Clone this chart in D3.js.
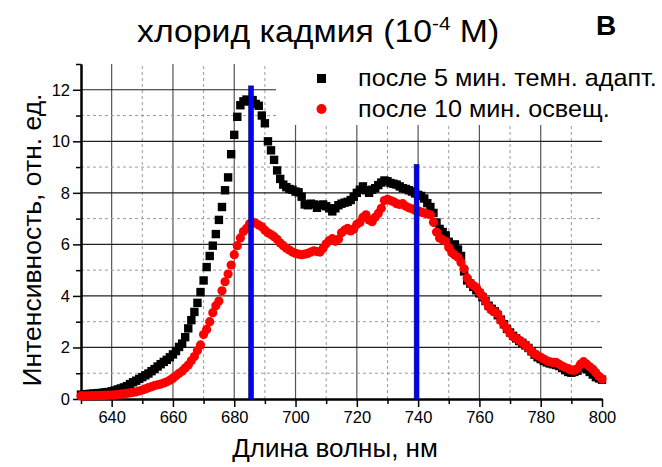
<!DOCTYPE html>
<html>
<head>
<meta charset="utf-8">
<script src="https://cdn.jsdelivr.net/npm/d3@7"></script>
<style>
  html, body { margin: 0; padding: 0; background: #fff; }
  svg { display: block; font-family: "Liberation Sans", Arial, sans-serif; }
</style>
</head>
<body>
<svg id="chart" width="662" height="467"></svg>
<script>
// Fluorescence spectra, 1 nm step from 630 to 800 nm
const wlStart = 630;
const darkAdapted = [
  0.17,0.18,0.19,0.20,0.21,0.22,0.23,0.24,0.26,0.27,
  0.30,0.33,0.37,0.41,0.45,0.50,0.58,0.65,0.71,0.78,
  0.85,0.92,0.99,1.08,1.16,1.26,1.35,1.44,1.52,1.62,
  1.73,1.86,2.02,2.15,2.40,2.74,3.06,3.38,3.73,4.15,
  4.60,5.12,5.55,5.95,6.40,6.95,7.45,8.10,8.60,9.50,
  10.25,10.95,11.40,11.55,11.62,11.55,11.60,11.45,11.38,11.00,
  10.70,10.00,9.65,9.28,8.87,8.54,8.32,8.22,8.15,8.12,
  8.05,8.02,7.85,7.55,7.52,7.58,7.55,7.42,7.52,7.55,
  7.48,7.40,7.28,7.40,7.52,7.58,7.62,7.65,7.72,7.85,
  8.00,8.12,8.25,8.10,8.00,8.12,8.18,8.30,8.40,8.48,
  8.45,8.38,8.35,8.32,8.25,8.18,8.15,8.10,8.05,7.98,
  7.92,7.88,7.78,7.60,7.45,7.22,6.85,6.60,6.48,6.35,
  6.10,5.85,6.00,5.80,5.55,4.95,4.60,4.48,4.35,4.22,
  4.10,3.95,3.80,3.62,3.50,3.40,3.25,3.08,2.90,2.72,
  2.58,2.45,2.35,2.25,2.18,2.08,1.98,1.85,1.72,1.62,
  1.55,1.48,1.42,1.38,1.35,1.32,1.28,1.20,1.12,1.05,
  1.02,1.05,1.10,1.22,1.25,1.15,1.05,0.95,0.85,0.80,
  0.75
];
const illuminated = [
  0.12,0.12,0.12,0.12,0.13,0.13,0.13,0.14,0.14,0.15,
  0.15,0.16,0.17,0.19,0.20,0.22,0.24,0.26,0.28,0.31,
  0.35,0.39,0.44,0.48,0.52,0.55,0.58,0.62,0.67,0.73,
  0.81,0.90,1.00,1.08,1.20,1.32,1.48,1.65,1.88,2.10,
  2.50,2.70,3.00,3.35,3.62,3.80,4.20,4.55,4.85,5.20,
  5.60,5.95,6.25,6.50,6.62,6.80,6.86,6.82,6.75,6.68,
  6.55,6.45,6.38,6.30,6.20,6.05,5.95,5.85,5.78,5.70,
  5.65,5.62,5.60,5.62,5.65,5.70,5.75,5.72,5.70,5.85,
  6.02,6.15,6.22,6.12,6.20,6.45,6.55,6.62,6.52,6.60,
  6.78,6.85,7.05,7.15,6.95,6.88,7.05,7.20,7.40,7.70,
  7.75,7.70,7.65,7.58,7.55,7.58,7.48,7.42,7.38,7.32,
  7.30,7.25,7.22,7.18,7.15,6.86,6.48,6.25,6.18,6.12,
  5.88,5.68,5.58,5.50,5.30,5.05,4.70,4.50,4.40,4.32,
  4.15,4.00,3.80,3.58,3.45,3.38,3.30,3.05,2.88,2.72,
  2.55,2.42,2.35,2.28,2.18,2.10,1.98,1.85,1.75,1.68,
  1.62,1.55,1.48,1.44,1.42,1.42,1.35,1.28,1.22,1.18,
  1.12,1.12,1.18,1.35,1.45,1.35,1.25,1.15,1.02,0.88,
  0.78
];
// Marker lines (wavelength, height)
const markerWl = [685.5, 739.5];
const markerVal = [12.15, 9.1];

const xMajorTicks = [640, 660, 680, 700, 720, 740, 760, 780, 800];
const xMinorTicks = [630, 650, 670, 690, 710, 730, 750, 770, 790];
const yMajorTicks = [0, 2, 4, 6, 8, 10, 12];
const yMinorTicks = [1, 3, 5, 7, 9, 11, 13];

const seriesLabels = ["после 5 мин. темн. адапт.", "после 10 мин. освещ."];

const svg = d3.select("#chart");
const plotLeft = 81, plotRight = 602, plotTop = 64, plotBottom = 399;

const x = d3.scaleLinear().domain([630, 800]).range([plotLeft, plotRight]);
const y = d3.scaleLinear().domain([0, 13]).range([plotBottom, plotTop]);

const black = darkAdapted.map((v, i) => ({ wl: wlStart + i, v }));
const red = illuminated.map((v, i) => ({ wl: wlStart + i, v }));

// Grid
const grid = svg.append("g");
grid.selectAll(".vmin").data(xMinorTicks.filter(d => d > 630)).join("line")
  .attr("x1", d => x(d)).attr("x2", d => x(d)).attr("y1", y(0)).attr("y2", y(13))
  .attr("stroke", "#9a9a9a").attr("stroke-width", 1).attr("stroke-dasharray", "3,3");
grid.selectAll(".vmaj").data(xMajorTicks.filter(d => d < 800)).join("line")
  .attr("x1", d => x(d)).attr("x2", d => x(d)).attr("y1", y(0)).attr("y2", y(13))
  .attr("stroke", "#555").attr("stroke-width", 1.2);
grid.selectAll(".hmin").data(yMinorTicks.filter(d => d < 13)).join("line")
  .attr("x1", x(630)).attr("x2", x(800)).attr("y1", d => y(d)).attr("y2", d => y(d))
  .attr("stroke", "#9a9a9a").attr("stroke-width", 1).attr("stroke-dasharray", "3,3");
grid.selectAll(".hmaj").data(yMajorTicks.filter(d => d > 0)).join("line")
  .attr("x1", x(630)).attr("x2", x(800)).attr("y1", d => y(d)).attr("y2", d => y(d))
  .attr("stroke", "#222").attr("stroke-width", 1.2);

// Legend background hides the grid behind it
svg.append("rect").attr("x", 276).attr("y", plotTop - 2).attr("width", plotRight - 276 + 2).attr("height", 63)
  .attr("fill", "#fff");

// Axes
const xAxis = d3.axisBottom(x).tickValues(xMajorTicks).tickSize(8).tickSizeOuter(0).tickPadding(4);
const xAxisMinor = d3.axisBottom(x).tickValues(xMinorTicks).tickSize(5).tickSizeOuter(0).tickFormat("");
const yAxis = d3.axisLeft(y).tickValues(yMajorTicks).tickSize(8).tickSizeOuter(0).tickPadding(3);
const yAxisMinor = d3.axisLeft(y).tickValues(yMinorTicks).tickSize(5).tickSizeOuter(0).tickFormat("");

function styleAxis(g) {
  g.select(".domain").attr("stroke", "#000").attr("stroke-width", 2);
  g.selectAll(".tick line").attr("stroke", "#000").attr("stroke-width", 1.5);
  g.selectAll(".tick text").attr("fill", "#000")
    .style("font-family", '"Liberation Sans", Arial, sans-serif').style("font-size", "16.5px");
}
svg.append("g").attr("transform", `translate(0,${plotBottom})`).call(xAxisMinor).call(styleAxis);
svg.append("g").attr("transform", `translate(0,${plotBottom})`).call(xAxis).call(styleAxis);
svg.append("g").attr("transform", `translate(${plotLeft},0)`).call(yAxisMinor).call(styleAxis);
svg.append("g").attr("transform", `translate(${plotLeft},0)`).call(yAxis).call(styleAxis);

// Series: squares, then circles
svg.append("g").selectAll("rect").data(black).join("rect")
  .attr("x", d => x(d.wl) - 4.2).attr("y", d => y(d.v) - 4.2)
  .attr("width", 8.4).attr("height", 8.4).attr("fill", "#000");
svg.append("g").selectAll("circle").data(red).join("circle")
  .attr("cx", d => x(d.wl)).attr("cy", d => y(d.v)).attr("r", 4.6).attr("fill", "#ff0000");

// Vertical markers
svg.append("g").selectAll("rect").data(markerWl).join("rect")
  .attr("x", d => x(d) - 2.4).attr("width", 4.8)
  .attr("y", (d, i) => y(markerVal[i])).attr("height", (d, i) => y(0) - y(markerVal[i]))
  .attr("fill", "#0000ff").attr("stroke", "#000060").attr("stroke-width", 0.6);

// Legend
const legend = svg.append("g");
legend.append("rect").attr("x", 317).attr("y", 74).attr("width", 9).attr("height", 9).attr("fill", "#000");
legend.append("circle").attr("cx", 321.5).attr("cy", 109).attr("r", 5).attr("fill", "#ff0000");
legend.selectAll("text").data(seriesLabels).join("text")
  .attr("transform", (d, i) => `translate(358,${86 + i * 30.5}) scale(1.05,1)`)
  .style("font-size", "24px").attr("fill", "#000").text(d => d);

// Title (slightly widened lettering)
const title = svg.append("text").attr("transform", "translate(137,42) scale(1.09,1)")
  .style("font-size", "31px").attr("fill", "#000");
title.append("tspan").text("хлорид кадмия (10");
title.append("tspan").attr("dy", -12).style("font-size", "19px").text("-4");
title.append("tspan").attr("dy", 12).text(" M)");

svg.append("text").attr("x", 596).attr("y", 35).style("font-size", "28px").style("font-weight", "bold")
  .attr("fill", "#000").text("В");

// Axis titles
svg.append("text").attr("x", 335).attr("y", 457).attr("text-anchor", "middle")
  .style("font-size", "26px").attr("fill", "#000").text("Длина волны, нм");
svg.append("text").attr("transform", `translate(41,240) rotate(-90)`)
  .attr("text-anchor", "middle").style("font-size", "26.5px").attr("fill", "#000")
  .text("Интенсивность, отн. ед.");
</script>
</body>
</html>
